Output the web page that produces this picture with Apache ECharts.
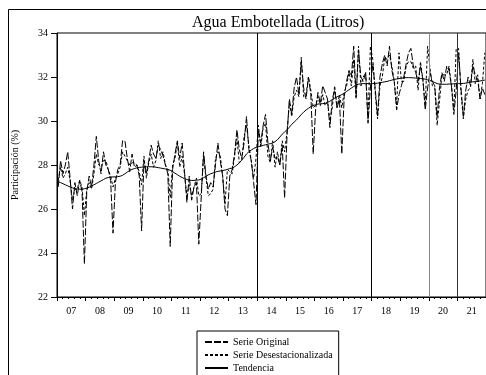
<!DOCTYPE html>
<html><head><meta charset="utf-8">
<script src="https://cdn.jsdelivr.net/npm/echarts@6/dist/echarts.min.js"></script>
<style>html,body{margin:0;padding:0;background:#fff}#c{width:486px;height:375px}</style>
</head><body><div id="c"></div>
<script>
const startYear = 2007;
const yearLabels = ['07','08','09','10','11','12','13','14','15','16','17','18','19','20','21'];
const breakYears = [2014, 2018, 2020, 2021];

const original = [
  27.0, 28.2, 27.6, 28.0, 28.6, 27.4, 26.0, 27.2, 26.6, 27.3, 26.8, 23.5,
  26.8, 27.5, 27.0, 28.0, 29.3, 28.2, 27.6, 28.6, 28.0, 27.8, 27.3, 24.9,
  27.2, 27.8, 28.0, 29.1, 29.1, 28.3, 27.7, 28.5, 27.9, 28.0, 27.5, 25.0,
  28.2, 27.6, 28.2, 28.9, 28.5, 28.3, 28.9, 28.7, 28.4, 28.0, 27.6, 24.3,
  27.8, 28.5, 29.1, 28.3, 29.0, 27.7, 26.3, 27.5, 26.4, 27.0, 27.2, 24.4,
  26.5, 28.6, 27.5, 26.9, 27.2, 27.0, 28.0, 29.0, 28.2, 27.5, 26.0, 25.7,
  27.5, 27.8, 28.5, 29.6, 28.7, 28.3, 29.0, 30.2, 28.7, 28.2, 27.2, 26.2,
  29.6, 29.0, 29.8, 30.3, 29.0, 28.2, 28.8, 28.3, 28.4, 28.0, 28.9, 26.5,
  29.3, 31.0, 30.3, 31.5, 32.0, 31.2, 32.7, 31.5, 31.0, 32.0, 31.2, 28.5,
  30.5, 31.3, 30.8, 31.6, 31.3, 31.0, 29.7, 31.0, 31.4, 30.6, 31.0, 28.5,
  31.1, 31.8, 32.3, 32.0, 33.4, 31.1, 33.2, 32.0, 31.8, 32.2, 29.9, 31.5,
  32.6, 31.5, 30.2, 32.0, 32.6, 33.0, 32.5, 33.4, 32.3, 31.8, 30.5, 31.2,
  31.6, 32.0, 32.6, 33.1, 33.3, 32.5, 32.2, 31.8, 32.5, 31.9, 30.5, 31.5,
  32.2, 31.8, 31.6, 30.2, 31.5, 32.2, 31.8, 32.5, 32.3, 31.6, 30.3, 31.4,
  33.1, 31.5, 30.2, 31.4, 32.0, 31.6, 32.5, 32.1, 31.9, 31.0, 31.5, 31.2
];
const desestacionalizada = [
  27.3, 27.9, 27.4, 27.6, 27.9, 27.3, 26.4, 26.9, 26.9, 27.3, 27.0, 25.7,
  26.9, 27.2, 26.9, 27.6, 28.5, 28.0, 27.9, 28.2, 28.2, 27.8, 27.5, 27.0,
  27.4, 27.6, 27.9, 28.6, 28.4, 28.2, 28.0, 28.1, 28.1, 28.0, 27.7, 27.1,
  28.4, 27.4, 28.1, 28.5, 27.9, 28.2, 29.1, 28.3, 28.6, 28.0, 27.8, 26.5,
  28.0, 28.3, 29.0, 27.9, 28.4, 27.6, 26.6, 27.1, 26.6, 27.0, 27.4, 26.6,
  26.7, 28.4, 27.4, 26.6, 26.7, 26.9, 28.3, 28.6, 28.4, 27.5, 26.2, 27.8,
  27.7, 27.6, 28.4, 29.2, 28.1, 28.2, 29.3, 29.8, 28.9, 28.2, 27.4, 28.3,
  29.8, 28.8, 29.7, 29.9, 28.4, 28.1, 29.1, 27.9, 28.6, 28.0, 29.1, 28.6,
  29.5, 30.8, 30.2, 31.1, 31.4, 31.1, 32.9, 31.1, 31.2, 32.0, 31.4, 30.6,
  30.7, 31.1, 30.7, 31.2, 30.7, 30.9, 30.0, 30.6, 31.6, 30.6, 31.2, 30.6,
  31.3, 31.6, 32.2, 31.6, 32.8, 31.0, 33.4, 31.6, 32.0, 32.2, 30.1, 33.4,
  32.8, 31.3, 30.1, 31.6, 32.0, 32.9, 32.8, 33.0, 32.5, 31.8, 30.7, 33.1,
  31.8, 31.8, 32.5, 32.7, 32.7, 32.4, 32.5, 31.4, 32.7, 31.9, 30.7, 33.4,
  32.4, 31.6, 31.5, 29.8, 30.9, 32.1, 32.1, 32.1, 32.5, 31.6, 30.5, 33.3,
  33.3, 31.3, 30.1, 31.0, 31.4, 31.5, 32.8, 31.7, 32.1, 31.0, 31.7, 33.1
];
const tendencia = [
  27.24, 27.20, 27.15, 27.10, 27.05, 27.00, 26.96, 26.93, 26.91, 26.90, 26.90, 26.92,
  26.95, 26.99, 27.04, 27.10, 27.16, 27.22, 27.28, 27.34, 27.40, 27.43, 27.45, 27.46,
  27.46, 27.47, 27.49, 27.53, 27.60, 27.68, 27.75, 27.80, 27.84, 27.87, 27.89, 27.90,
  27.91, 27.92, 27.92, 27.92, 27.91, 27.90, 27.88, 27.86, 27.84, 27.82, 27.80, 27.76,
  27.70, 27.63, 27.56, 27.49, 27.43, 27.38, 27.34, 27.31, 27.30, 27.30, 27.31, 27.32,
  27.36, 27.42, 27.49, 27.55, 27.60, 27.64, 27.68, 27.71, 27.73, 27.75, 27.77, 27.80,
  27.84, 27.86, 27.92, 28.00, 28.10, 28.22, 28.35, 28.50, 28.60, 28.68, 28.75, 28.80,
  28.83, 28.86, 28.89, 28.92, 28.95, 28.97, 29.00, 29.06, 29.15, 29.27, 29.40, 29.50,
  29.60, 29.72, 29.85, 29.95, 30.05, 30.17, 30.30, 30.40, 30.50, 30.58, 30.65, 30.70,
  30.74, 30.77, 30.78, 30.79, 30.80, 30.84, 30.90, 30.97, 31.04, 31.10, 31.15, 31.20,
  31.26, 31.34, 31.42, 31.50, 31.57, 31.64, 31.67, 31.69, 31.70, 31.70, 31.70, 31.70,
  31.70, 31.71, 31.72, 31.74, 31.76, 31.78, 31.80, 31.83, 31.86, 31.89, 31.91, 31.93,
  31.95, 31.96, 31.97, 31.97, 31.97, 31.96, 31.95, 31.94, 31.93, 31.92, 31.90, 31.87,
  31.84, 31.80, 31.75, 31.70, 31.68, 31.67, 31.67, 31.67, 31.68, 31.68, 31.69, 31.70,
  31.70, 31.70, 31.71, 31.72, 31.74, 31.76, 31.78, 31.79, 31.80, 31.82, 31.84, 31.86
];

const FONT = "'Liberation Serif', 'Times New Roman', serif";
function pts(arr) { return arr.map((v, i) => [startYear + (i + 0.5) / 12, v]); }

const chart = echarts.init(document.getElementById('c'), null, { renderer: 'canvas' });
chart.setOption({
  animation: false,
  backgroundColor: '#fff',
  title: {
    text: 'Agua Embotellada (Litros)',
    left: 187, top: 10,
    textStyle: { fontFamily: FONT, fontSize: 16, fontWeight: 'normal', color: '#000' }
  },
  graphic: [
    { type: 'rect', shape: { x: 8.5, y: 9.5, width: 600, height: 600 },
      style: { fill: 'none', stroke: '#000', lineWidth: 1 }, silent: true },
    { type: 'text', x: 15, y: 165, rotation: Math.PI / 2,
      style: { text: 'Participación (%)', font: "10px 'Liberation Serif'", fill: '#000',
               align: 'center', verticalAlign: 'middle' } }
  ],
  legend: {
    orient: 'vertical', left: 197, top: 331, height: 80,
    data: ['Serie Original', 'Serie Desestacionalizada', 'Tendencia'],
    borderColor: '#000', borderWidth: 1, padding: [6, 6, 6, 7],
    itemWidth: 23, itemHeight: 8, itemGap: 3,
    itemStyle: { opacity: 0 },
    textStyle: { fontFamily: FONT, fontSize: 10, color: '#000' }
  },
  grid: { left: 57, top: 33, right: -4, bottom: 78, show: true, borderColor: '#000', borderWidth: 1 },
  xAxis: [
    { type: 'value', min: 2007, max: 2022, interval: 1,
      axisLine: { onZero: false, lineStyle: { color: '#000' } },
      axisTick: { show: true, length: 4, lineStyle: { color: '#000' } },
      minorTick: { show: true, splitNumber: 5, length: 2, lineStyle: { color: '#000' } },
      axisLabel: { show: false }, splitLine: { show: false } },
    { type: 'category', data: yearLabels, position: 'bottom', boundaryGap: true,
      axisLine: { show: false }, axisTick: { show: false }, splitLine: { show: false },
      axisLabel: { margin: 9, fontFamily: FONT, fontSize: 10, color: '#000', interval: 0 } }
  ],
  yAxis: {
    type: 'value', min: 22, max: 34, interval: 2,
    axisLine: { show: true, lineStyle: { color: '#000' } },
    axisTick: { show: true, length: 6, lineStyle: { color: '#000' } },
    axisLabel: { margin: 9, fontFamily: FONT, fontSize: 10, color: '#000' },
    splitLine: { show: false }
  },
  series: [
    { name: 'Serie Original', type: 'line', data: pts(original), symbol: 'none',
      lineStyle: { color: '#000', width: 1, type: [7, 2] }, itemStyle: { color: '#000' } },
    { name: 'Serie Desestacionalizada', type: 'line', data: pts(desestacionalizada), symbol: 'none',
      lineStyle: { color: '#000', width: 1, type: [3, 2] }, itemStyle: { color: '#000' } },
    { name: 'Tendencia', type: 'line', data: pts(tendencia), symbol: 'none',
      lineStyle: { color: '#000', width: 1 }, itemStyle: { color: '#000' },
      markLine: { symbol: 'none', silent: true, label: { show: false },
        data: breakYears.map((y, i) => ({ xAxis: y,
          lineStyle: { color: i === 2 ? '#888' : (i === 3 ? '#333' : '#000'), width: 1, type: 'solid' } })) } }
  ]
});
</script></body></html>
